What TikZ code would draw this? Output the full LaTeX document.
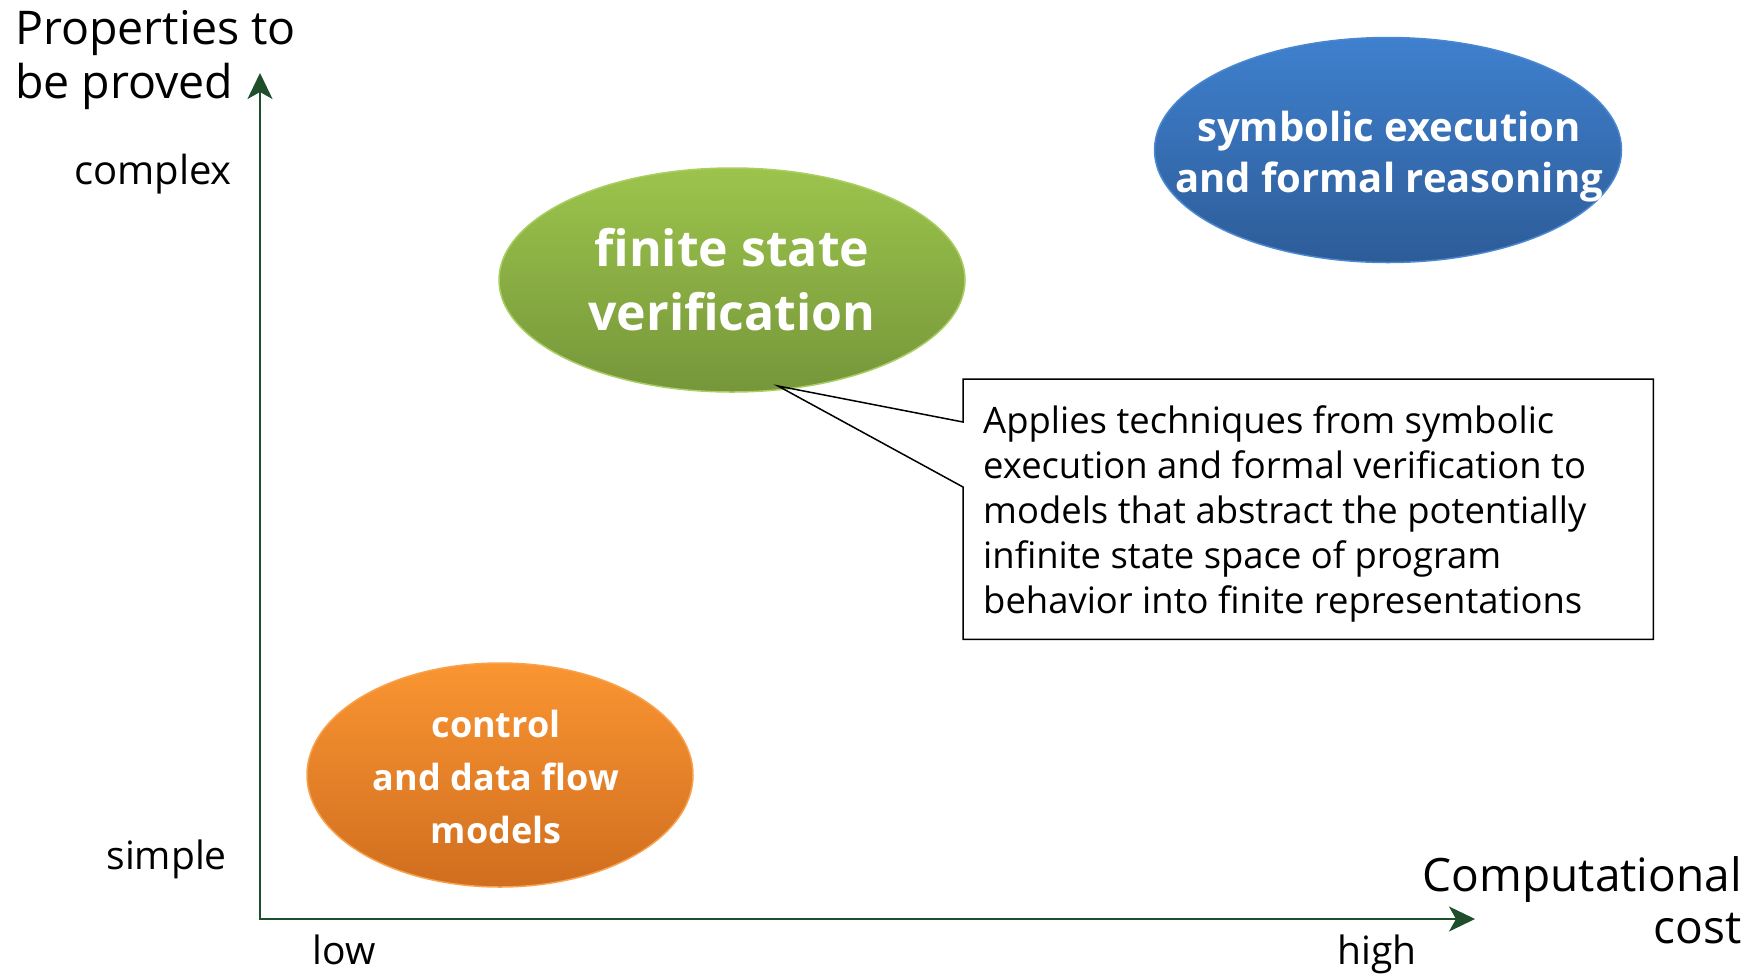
\documentclass[tikz,border=0pt]{standalone}
\usepackage{fontspec}
\setmainfont{Open Sans}
\usetikzlibrary{arrows.meta,calc,shapes.geometric}
\definecolor{axisgreen}{HTML}{1F4E2B}
\definecolor{greentop}{HTML}{9CC44C}
\definecolor{greenbot}{HTML}{76963A}
\definecolor{greenrim}{HTML}{A9CE62}
\definecolor{bluetop}{HTML}{3F80CE}
\definecolor{bluebot}{HTML}{2D5C98}
\definecolor{bluerim}{HTML}{4A88D2}
\definecolor{orangetop}{HTML}{FA9532}
\definecolor{orangebot}{HTML}{D06E1F}
\definecolor{orangerim}{HTML}{F8A24E}
\begin{document}
\begin{tikzpicture}[x=1pt,y=-1pt,
  blob/.style={shape=ellipse, inner sep=0pt, line width=1.5pt},
  blobtext/.style={text=white, align=center, inner sep=0pt, font=\bfseries},
  axislabel/.style={inner sep=0pt, text=black},
  axisline/.style={draw=axisgreen, line width=2pt,
    {Stealth[length=26pt,width=25pt,inset=7pt]}-{Stealth[length=26pt,width=25pt,inset=7pt]}},
  notebox/.style={draw=none, inner sep=0pt, minimum width=690pt, minimum height=260pt, anchor=north west},
  notetext/.style={inner sep=0pt, align=left, anchor=base west, font=\fontsize{36.4}{45}\selectfont},
  noteline/.style={draw=black, line width=1.5pt, line join=miter}
]
\useasboundingbox (0,0) rectangle (1758,975);

% axes
\coordinate (origin) at (260,919);
\coordinate (ytip) at (260,73);
\coordinate (xtip) at (1475,919);
\draw[axisline] (ytip) -- (origin) -- (xtip);

% axis labels
\node[axislabel, align=left, anchor=west, font=\fontsize{46.5}{54}\selectfont] (ytitle) at (15,60) {Properties to\\be proved};
\node[axislabel, anchor=base east, font=\fontsize{40}{48}\selectfont] (complex) at (232,184) {complex};
\node[axislabel, anchor=base east, font=\fontsize{39}{48}\selectfont] (simple) at (227,869) {simple};
\node[axislabel, anchor=base, font=\fontsize{39}{48}\selectfont] (low) at (344,964) {low};
\node[axislabel, anchor=base, font=\fontsize{39}{48}\selectfont] (high) at (1377,964) {high};
\node[axislabel, align=right, anchor=east, font=\fontsize{46}{52}\selectfont] (xtitle) at (1742,900) {Computational\\cost};

% ellipses
\node[blob, minimum width=466pt, minimum height=224pt, top color=greentop, bottom color=greenbot, draw=greenrim] (fsv) at (732,280) {};
\node[blobtext, font=\bfseries\fontsize{50}{64}\selectfont] (fsvtext) at (fsv.center) {finite state\\verification};

\node[blob, minimum width=467pt, minimum height=225pt, top color=bluetop, bottom color=bluebot, draw=bluerim] (sym) at (1388,150) {};
\node[blobtext, font=\bfseries\fontsize{40}{51}\selectfont] (symtext) at ($(sym.center)+(1,7)$) {symbolic execution\\and formal reasoning};

\node[blob, minimum width=386pt, minimum height=224pt, top color=orangetop, bottom color=orangebot, draw=orangerim] (cdf) at (500,775) {};
\node[blobtext, font=\bfseries\fontsize{36}{53}\selectfont] (cdftext) at ($(cdf.center)+(-4,2)$) {control\\and data flow\\models};

% callout note
\node[notebox] (note) at (963,379) {};
\node[notetext] (notetxt) at ($(note.north west)+(20,234)$) {Applies techniques from symbolic\\execution and formal verification to\\models that abstract the potentially\\infinite state space of program\\behavior into finite representations};
\coordinate (tip) at (778,386);
\coordinate (j1) at ($(note.north west)+(0,43)$);
\coordinate (j2) at ($(note.north west)+(0,108)$);
\draw[noteline] (j1) -- (note.north west) -- (note.north east) -- (note.south east) -- (note.south west) -- (j2) -- (tip) -- cycle;
\end{tikzpicture}
\end{document}
